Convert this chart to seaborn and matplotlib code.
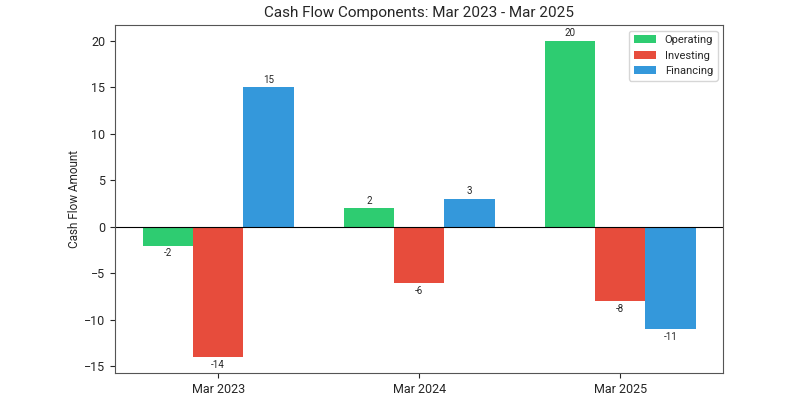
import matplotlib
matplotlib.use("Agg")
import matplotlib.pyplot as plt
import seaborn as sns
import pandas as pd

periods = ["Mar 2023", "Mar 2024", "Mar 2025"]
operating = [-2, 2, 20]
investing = [-14, -6, -8]
financing = [15, 3, -11]
components = ["Operating", "Investing", "Financing"]
colors = ["#2ecc71", "#e74c3c", "#3498db"]

rows = []
for comp, vals in zip(components, [operating, investing, financing]):
    for p, v in zip(periods, vals):
        rows.append({"Period": p, "Component": comp, "Value": v})
df = pd.DataFrame(rows)

sns.set_style("white")
plt.rcParams["font.family"] = ["Roboto", "DejaVu Sans"]

fig, ax = plt.subplots(figsize=(8, 4), dpi=100)
sns.barplot(data=df, x="Period", y="Value", hue="Component", hue_order=components,
            palette=colors, width=0.75, saturation=1, ax=ax, errorbar=None,
            linewidth=0)

for cont in ax.containers:
    ax.bar_label(cont, fmt="%d", padding=2, fontsize=7)

ax.axhline(0, color="black", linewidth=0.8)
ax.set_xlim(-0.5125, 2.5125)
ax.set_ylim(-15.7, 21.7)
ax.set_xlabel("")
ax.set_ylabel("Cash Flow Amount", fontsize=8.5, labelpad=2)
ax.set_title("Cash Flow Components: Mar 2023 - Mar 2025", fontsize=11)
ax.tick_params(axis="both", labelsize=9, left=True, bottom=True, length=3.5)
for s in ax.spines.values():
    s.set_color("#555555")
ax.legend(loc="upper right", fontsize=8, title=None)

fig.subplots_adjust(left=0.144, right=0.904, top=0.9375, bottom=0.0675)
fig.savefig("out.png", dpi=100)
